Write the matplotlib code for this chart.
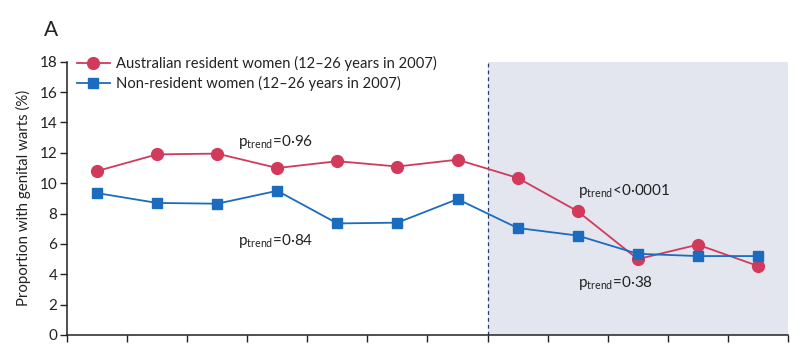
import matplotlib
matplotlib.use("Agg")
import matplotlib.pyplot as plt
import numpy as np

plt.rcParams['font.family'] = ['Lato', 'DejaVu Sans']
plt.rcParams['mathtext.fontset'] = 'custom'
plt.rcParams['mathtext.rm'] = 'Lato'
plt.rcParams['mathtext.it'] = 'Lato'

# Data (12 periods, no labels on x axis)
periods = list(range(12))
resident = [10.8, 11.9, 11.95, 11.0, 11.45, 11.1, 11.55, 10.35, 8.15, 5.0, 5.95, 4.55]
nonresident = [9.35, 8.7, 8.65, 9.5, 7.35, 7.4, 8.95, 7.05, 6.55, 5.35, 5.2, 5.2]
yticks = [0, 2, 4, 6, 8, 10, 12, 14, 16, 18]
series_labels = ["Australian resident women (12\u201326 years in 2007)",
                 "Non-resident women (12\u201326 years in 2007)"]
annotations = [
    ("p$_{\\mathrm{trend}}$=0\u00b796", 2.85, 12.7),
    ("p$_{\\mathrm{trend}}$=0\u00b784", 2.85, 6.2),
    ("p$_{\\mathrm{trend}}$<0\u00b70001", 8.5, 9.5),
    ("p$_{\\mathrm{trend}}$=0\u00b738", 8.5, 3.4),
]
vaccine_start = 7

red = '#d23a5c'
blue = '#1b6cbf'

fig = plt.figure(figsize=(8.11, 3.53), dpi=100)
ax = fig.add_axes([0.0826, 0.051, 0.889, 0.774])

x = np.array(periods) + 0.5
ax.axvspan(vaccine_start, len(periods), ymin=0, ymax=1, color='#e3e6ef', zorder=0, lw=0)
ax.axvline(vaccine_start, color='#2a3a6a', ls=(0, (3, 2.5)), lw=0.9, zorder=1)

ax.plot(x, resident, color=red, lw=1.3, marker='o', ms=8.5, mfc=red, mec=red,
        label=series_labels[0], zorder=3)
ax.plot(x, nonresident, color=blue, lw=1.3, marker='s', ms=7.5, mfc=blue, mec=blue,
        label=series_labels[1], zorder=3)

for txt, tx, ty in annotations:
    ax.text(tx, ty, txt, fontsize=11, color='#222222', va='center', ha='left', zorder=4)

ax.set_xlim(0, len(periods))
ax.set_ylim(0, 18)
ax.set_yticks(yticks)
ax.set_yticklabels([str(v) for v in yticks], fontsize=11, color='#222222')
ax.set_xticks(np.arange(0, len(periods) + 1))
ax.set_xticklabels([])
ax.tick_params(axis='both', direction='out', length=5, width=1, color='#222222')
ax.tick_params(axis='y', pad=2)
for s in ['top', 'right']:
    ax.spines[s].set_visible(False)
for s in ['left', 'bottom']:
    ax.spines[s].set_color('#222222')
    ax.spines[s].set_linewidth(1.1)
ax.spines['left'].set_bounds(0, 18)

ax.set_ylabel("Proportion with genital warts (%)", fontsize=10.8, color='#222222', labelpad=6)

leg = ax.legend(loc='upper left', bbox_to_anchor=(0.0, 1.06), frameon=False,
                fontsize=10.6, handlelength=2.2, handletextpad=0.4, labelspacing=0.35,
                borderaxespad=0.3)
for t in leg.get_texts():
    t.set_color('#222222')

fig.text(0.054, 0.915, "A", fontsize=15, color='#222222', ha='left', va='center')

fig.savefig("out.png", dpi=100)
